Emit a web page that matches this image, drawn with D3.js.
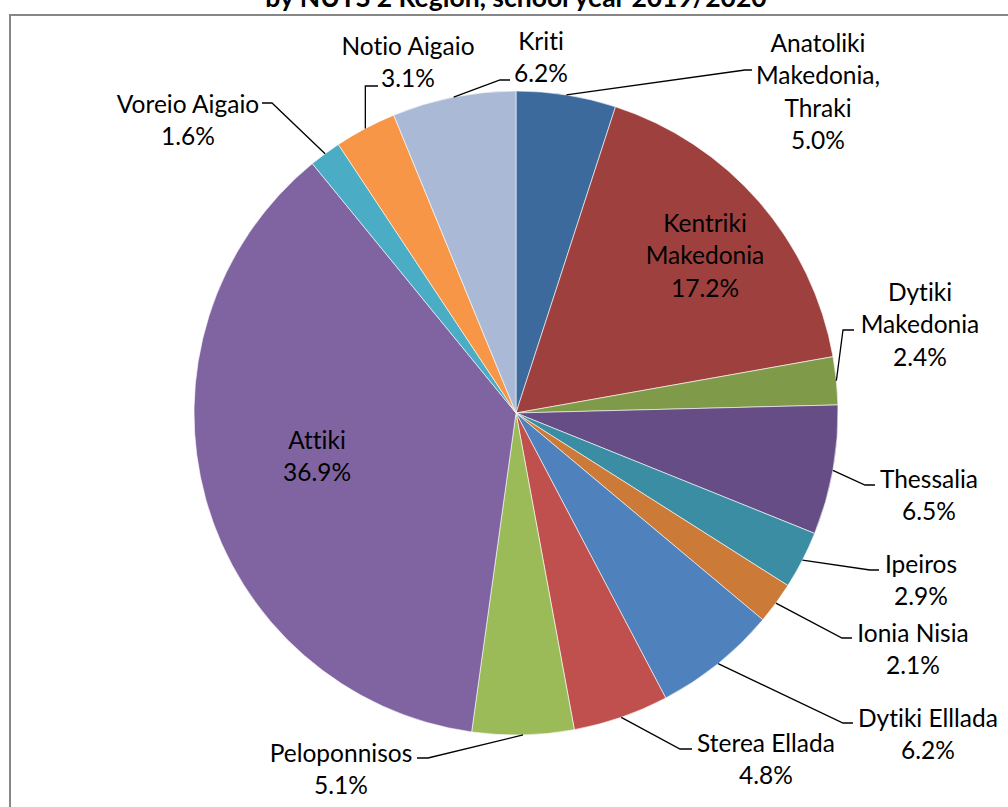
<!DOCTYPE html>
<html>
<head>
<meta charset="utf-8">
<script src="https://cdn.jsdelivr.net/npm/d3@7"></script>
<style>
  body { margin: 0; background: #fff; }
  text { font-family: Lato, "Open Sans", sans-serif; font-variant-ligatures: none; }
</style>
</head>
<body>
<script>
// slices clockwise from 12 o'clock
var regions = ["Anatoliki Makedonia, Thraki", "Kentriki Makedonia", "Dytiki Makedonia", "Thessalia",
    "Ipeiros", "Ionia Nisia", "Dytiki Elllada", "Sterea Ellada", "Peloponnisos", "Attiki",
    "Voreio Aigaio", "Notio Aigaio", "Kriti"];
var shares = [5.0, 17.2, 2.4, 6.5, 2.9, 2.1, 6.2, 4.8, 5.1, 36.9, 1.6, 3.1, 6.2];
var nameLines = [["Anatoliki", "Makedonia,", "Thraki"], ["Kentriki", "Makedonia"], ["Dytiki", "Makedonia"],
    ["Thessalia"], ["Ipeiros"], ["Ionia Nisia"], ["Dytiki Elllada"], ["Sterea Ellada"], ["Peloponnisos"],
    ["Attiki"], ["Voreio Aigaio"], ["Notio Aigaio"], ["Kriti"]];
var colors = ["#3d6a9c", "#9e413e", "#7f9a48", "#664d85", "#3b8da4", "#cb7a38", "#4f81bd",
    "#c0504d", "#9bbb59", "#8064a2", "#4bacc6", "#f79646", "#aab9d6"];
var titleText = "by NUTS 2 Region, school year 2019/2020";

var W = 1008, H = 807;
var cx = 516, cy = 413, R = 322;
var lineH = 32.5;

// label placement: x = text centre, y = first line centre, elbow/end = leader line bend and tip
var labelPos = [
    {x: 818, y: 42, elbow: [745, 70], end: [752, 70]},
    {x: 705, y: 222},
    {x: 920, y: 291, elbow: [843, 330], end: [854, 330]},
    {x: 929, y: 478, elbow: [865, 485], end: [875, 485]},
    {x: 921, y: 563, elbow: [870, 570], end: [879, 570]},
    {x: 913, y: 632, elbow: [842, 638], end: [852, 638]},
    {x: 928, y: 717, elbow: [843, 723], end: [853, 723]},
    {x: 766, y: 742, elbow: [680, 749], end: [692, 749]},
    {x: 341, y: 752, elbow: [428, 758], end: [417, 758]},
    {x: 317, y: 439},
    {x: 188, y: 103, elbow: [272, 103], end: [262, 103]},
    {x: 408, y: 45, elbow: null, end: [378, 86], vertical: true},
    {x: 541, y: 40, elbow: [500, 80], end: [510, 80]}
];

var svg = d3.select("body").append("svg").attr("width", W).attr("height", H);

// chart frame (only top and left edges show in the crop)
svg.append("path").attr("d", "M10,1000V15H1100")
    .attr("fill", "none").attr("stroke", "#878787").attr("stroke-width", 2);

svg.append("text").attr("x", 516).attr("y", 7)
    .attr("text-anchor", "middle").attr("font-size", 26.5).attr("font-weight", "bold")
    .text(titleText);

var pie = d3.pie().sort(null).value(function (d) { return d; });
var arcs = pie(shares);
var arc = d3.arc().innerRadius(0).outerRadius(R);

var g = svg.append("g").attr("transform", "translate(" + cx + "," + cy + ")");
g.selectAll("path.slice").data(arcs).enter().append("path")
    .attr("class", "slice")
    .attr("d", arc)
    .attr("fill", function (d, i) { return colors[i]; })
    .attr("stroke", "#fff").attr("stroke-width", 0.6);

// leader lines start on the rim at each slice's mid angle
arcs.forEach(function (d, i) {
    var p = labelPos[i];
    if (!p.end) return;
    var a = (d.startAngle + d.endAngle) / 2;
    var sx = cx + R * Math.sin(a), sy = cy - R * Math.cos(a);
    var pts = [[sx, sy]];
    if (p.vertical) pts.push([sx, p.end[1]]);
    else pts.push(p.elbow);
    pts.push(p.end);
    svg.append("path").attr("d", d3.line()(pts))
        .attr("fill", "none").attr("stroke", "#000").attr("stroke-width", 1.3);
});

arcs.forEach(function (d, i) {
    var p = labelPos[i];
    var lines = nameLines[i].concat([d3.format(".1f")(shares[i]) + "%"]);
    var t = svg.append("text").attr("text-anchor", "middle").attr("font-size", 24.5).attr("fill", "#000");
    lines.forEach(function (s, k) {
        t.append("tspan").attr("x", p.x).attr("y", p.y + k * lineH)
            .attr("dominant-baseline", "central").text(s);
    });
});
</script>
</body>
</html>
